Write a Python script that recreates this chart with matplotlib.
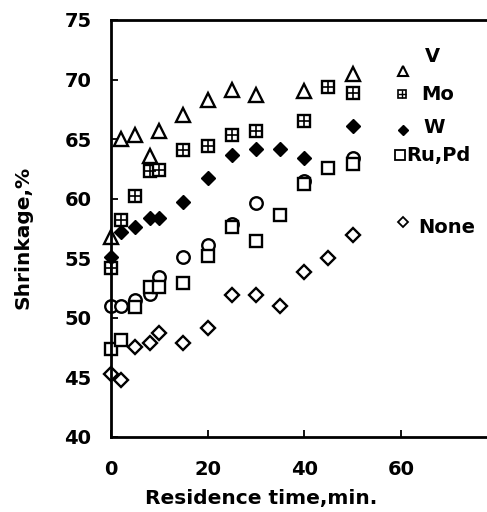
import matplotlib
matplotlib.use('Agg')
import matplotlib.pyplot as plt

plt.rcParams['font.family'] = ['DejaVu Sans']
plt.rcParams['font.weight'] = 'bold'

# ---- data ----
t_v = [0, 2, 5, 8, 10, 15, 20, 25, 30, 40, 50]
s_v = [56.8, 65.0, 65.3, 63.6, 65.7, 67.0, 68.3, 69.1, 68.7, 69.0, 70.5]

t_mo = [0, 2, 5, 8, 10, 15, 20, 25, 30, 40, 45, 50]
s_mo = [54.2, 58.2, 60.2, 62.3, 62.4, 64.1, 64.4, 65.3, 65.7, 66.5, 69.4, 68.9]

t_w = [0, 2, 5, 8, 10, 15, 20, 25, 30, 35, 40, 50]
s_w = [55.1, 57.2, 57.6, 58.4, 58.4, 59.7, 61.7, 63.7, 64.2, 64.2, 63.4, 66.1]

t_ru = [0, 2, 5, 8, 10, 15, 20, 25, 30, 35, 40, 45, 50]
s_ru = [47.4, 48.1, 50.9, 52.6, 52.6, 52.9, 55.2, 57.6, 56.4, 58.6, 61.2, 62.6, 62.9]

t_pd = [0, 2, 5, 8, 10, 15, 20, 25, 30, 40, 50]
s_pd = [51.0, 51.0, 51.5, 52.0, 53.4, 55.1, 56.1, 57.9, 59.6, 61.5, 63.4]

t_none = [0, 2, 5, 8, 10, 15, 20, 25, 30, 35, 40, 45, 50]
s_none = [45.3, 44.8, 47.5, 47.9, 48.7, 47.9, 49.1, 51.9, 51.9, 51.0, 53.8, 55.0, 56.9]

fig = plt.figure(figsize=(4.87, 5.12), dpi=100)
ax = fig.add_axes([111/487, 75.3/512, 376/487, 416.7/512])

open_kw = dict(ls='none', mfc='white', mec='black', mew=1.7, clip_on=False)
ax.plot(t_none, s_none, marker='D', ms=7, **open_kw)
ax.plot(t_pd, s_pd, marker='o', ms=9, **open_kw)
ax.plot(t_ru, s_ru, marker='s', ms=8.5, **open_kw)
ax.plot(t_mo, s_mo, marker='s', ms=8, **open_kw)
ax.plot(t_mo, s_mo, marker='+', ms=8, ls='none', mec='black', mew=1.2, clip_on=False)
ax.plot(t_w, s_w, marker='D', ms=7, ls='none', mfc='black', mec='black', clip_on=False)
ax.plot(t_v, s_v, marker='^', ms=10.5, **open_kw)

# legend written beside the points, as in the original
lk = dict(transform=ax.transAxes, ls='none', clip_on=False)
ax.plot([0.777], [0.878], marker='^', ms=7, mfc='white', mec='black', mew=1.5, **lk)
ax.plot([0.774], [0.822], marker='s', ms=6, mfc='white', mec='black', mew=1.2, **lk)
ax.plot([0.774], [0.822], marker='+', ms=6, mec='black', mew=1.0, **lk)
ax.plot([0.777], [0.736], marker='D', ms=5.5, mfc='black', mec='black', **lk)
ax.plot([0.769], [0.676], marker='s', ms=6.5, mfc='white', mec='black', mew=1.3, **lk)
ax.plot([0.777], [0.515], marker='D', ms=5.5, mfc='white', mec='black', mew=1.3, **lk)
tk = dict(transform=ax.transAxes, fontsize=14, fontweight='bold', va='center')
ax.text(0.835, 0.912, 'V', **tk)
ax.text(0.825, 0.822, 'Mo', **tk)
ax.text(0.832, 0.741, 'W', **tk)
ax.text(0.785, 0.676, 'Ru,Pd', **tk)
ax.text(0.817, 0.503, 'None', **tk)

ax.set_xlim(0, 77.8)
ax.set_ylim(40, 75)
ax.set_xticks([0, 20, 40, 60])
ax.set_yticks(range(40, 76, 5))
ax.tick_params(direction='in', length=5, width=1.3, labelsize=14)
ax.tick_params(axis='y', pad=14)
ax.tick_params(axis='x', pad=17)
for lab in ax.get_xticklabels() + ax.get_yticklabels():
    lab.set_fontweight('bold')
ax.spines['right'].set_visible(False)
for sp in ['left', 'bottom', 'top']:
    ax.spines[sp].set_linewidth(2)

ax.set_xlabel('Residence time,min.', fontsize=14.5, fontweight='bold')
ax.set_ylabel('Shrinkage,%', fontsize=14.5, fontweight='bold')
ax.xaxis.label.set_va('center')
ax.xaxis.set_label_coords(150/376, -62/416.7)
ax.yaxis.set_label_coords(-78/376, 0.477)

plt.savefig('out.png', dpi=100)
